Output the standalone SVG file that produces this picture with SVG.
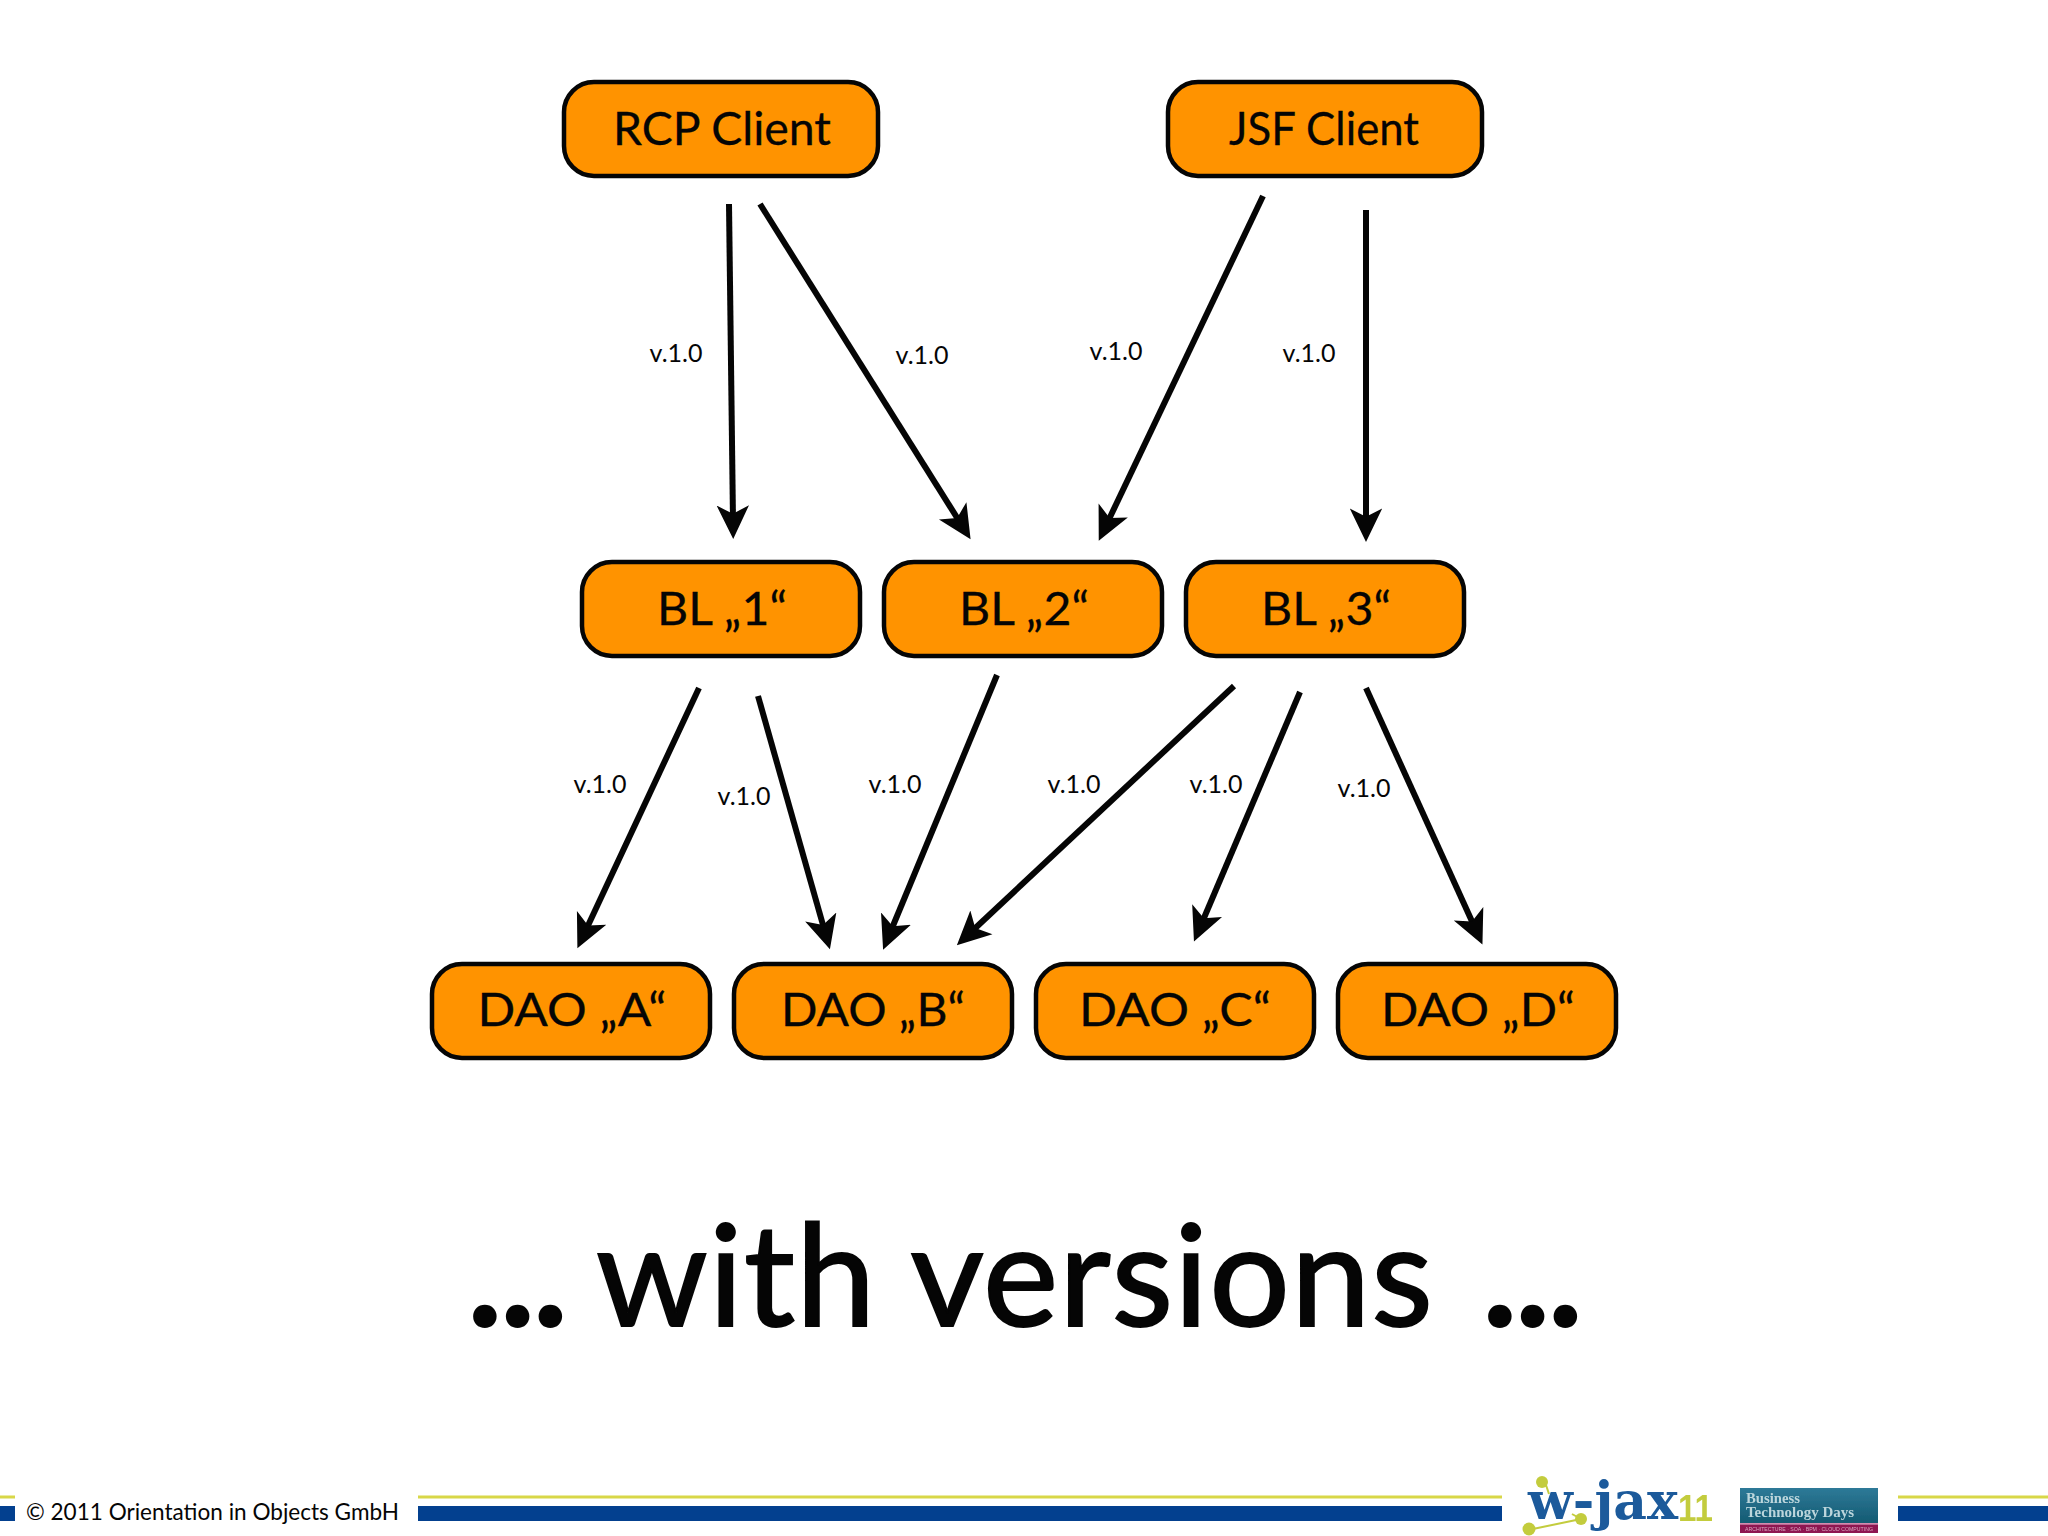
<svg xmlns="http://www.w3.org/2000/svg" width="2048" height="1536" viewBox="0 0 2048 1536">
<style>
text{font-family:"Lato","Open Sans","Liberation Sans",sans-serif;fill:#050505}
.n rect{fill:#ff9300;stroke:#050505;stroke-width:4.5}
.n text{font-size:46px;text-anchor:middle;stroke:#050505;stroke-width:.3}
.v{font-size:25px;text-anchor:middle}
.c line{stroke:#050505;stroke-width:6;marker-end:url(#a)}
.ye{fill:#d8d748}.bl{fill:#03408f}
.lg{font-family:"DejaVu Serif","Liberation Serif",serif;font-weight:700;font-size:52px;fill:#1b5a9b}
.el{font-family:"Liberation Sans",sans-serif;font-weight:700;font-size:36px;fill:#c3cc3e}
.bt{font-family:"Liberation Serif",serif;font-weight:700;font-size:15.5px;fill:#bcd6dc}
.st{font-family:"Liberation Sans",sans-serif;font-size:6px;fill:#d9a9c0}
</style>
<defs>
<marker id="a" markerUnits="userSpaceOnUse" markerWidth="36" markerHeight="36" refX="13" refY="15" orient="auto" viewBox="0 0 30 30"><path d="M0,1.5 L28,15 L0,28.5 L7,15 z" fill="#050505"/></marker>
<linearGradient id="t" x1="0" y1="0" x2="0" y2="1"><stop offset="0" stop-color="#2e7a98"/><stop offset="1" stop-color="#145a72"/></linearGradient>
<filter id="b" x="-5%" y="-5%" width="110%" height="110%"><feGaussianBlur stdDeviation="0.6"/></filter>
</defs>
<rect width="2048" height="1536" fill="#fff"/>
<g id="connectors" class="c">
<line x1="729" y1="204" x2="733" y2="521"/>
<line x1="760" y1="204" x2="961" y2="524"/>
<line x1="1263" y1="196" x2="1106.5" y2="524.5"/>
<line x1="1366" y1="210" x2="1366" y2="524"/>
<line x1="699" y1="688" x2="585" y2="932"/>
<line x1="758" y1="696" x2="825" y2="932"/>
<line x1="997" y1="675" x2="890" y2="933"/>
<line x1="1234" y1="686" x2="970" y2="933"/>
<line x1="1300" y1="692" x2="1201" y2="925"/>
<line x1="1366" y1="688" x2="1475" y2="928"/>
</g>
<g id="labels">
<text class="v" x="676" y="362">v.1.0</text>
<text class="v" x="922" y="364">v.1.0</text>
<text class="v" x="1116" y="360">v.1.0</text>
<text class="v" x="1309" y="362">v.1.0</text>
<text class="v" x="600" y="793">v.1.0</text>
<text class="v" x="744" y="805">v.1.0</text>
<text class="v" x="895" y="793">v.1.0</text>
<text class="v" x="1074" y="793">v.1.0</text>
<text class="v" x="1216" y="793">v.1.0</text>
<text class="v" x="1364" y="797">v.1.0</text>
</g>
<g id="rcp" class="n"><rect x="564" y="82" width="314" height="94" rx="30"/><text x="722" y="145" textLength="218" lengthAdjust="spacingAndGlyphs">RCP Client</text></g>
<g id="jsf" class="n"><rect x="1168" y="82" width="314" height="94" rx="30"/><text x="1324" y="145" textLength="190" lengthAdjust="spacingAndGlyphs">JSF Client</text></g>
<g id="bl1" class="n"><rect x="582" y="562" width="278" height="94" rx="30"/><text x="722" y="625" textLength="130" lengthAdjust="spacingAndGlyphs">BL „1“</text></g>
<g id="bl2" class="n"><rect x="884" y="562" width="278" height="94" rx="30"/><text x="1024" y="625" textLength="130" lengthAdjust="spacingAndGlyphs">BL „2“</text></g>
<g id="bl3" class="n"><rect x="1186" y="562" width="278" height="94" rx="30"/><text x="1326" y="625" textLength="130" lengthAdjust="spacingAndGlyphs">BL „3“</text></g>
<g id="daoA" class="n"><rect x="432" y="964" width="278" height="94" rx="30"/><text x="572" y="1026" textLength="189" lengthAdjust="spacingAndGlyphs">DAO „A“</text></g>
<g id="daoB" class="n"><rect x="734" y="964" width="278" height="94" rx="30"/><text x="873" y="1026" textLength="184" lengthAdjust="spacingAndGlyphs">DAO „B“</text></g>
<g id="daoC" class="n"><rect x="1036" y="964" width="278" height="94" rx="30"/><text x="1175" y="1026" textLength="192" lengthAdjust="spacingAndGlyphs">DAO „C“</text></g>
<g id="daoD" class="n"><rect x="1338" y="964" width="278" height="94" rx="30"/><text x="1478" y="1026" textLength="194" lengthAdjust="spacingAndGlyphs">DAO „D“</text></g>
<text y="1326" font-size="142" stroke="#050505" stroke-width="2"><tspan x="468" font-weight="700" letter-spacing="-1">...</tspan><tspan x="596" textLength="838" lengthAdjust="spacingAndGlyphs" letter-spacing="1">with versions</tspan><tspan x="1483" font-weight="700" letter-spacing="-1">...</tspan></text>
<g id="footer">
<rect class="ye" x="0" y="1495.500" width="15" height="3"/><rect class="bl" x="0" y="1506" width="15" height="15"/>
<rect class="ye" x="418" y="1495.500" width="1084" height="3"/><rect class="bl" x="418" y="1506" width="1084" height="15"/>
<rect class="ye" x="1898" y="1495.500" width="150" height="3"/><rect class="bl" x="1898" y="1506" width="150" height="15"/>
<text x="26" y="1520" font-size="24" textLength="373" lengthAdjust="spacingAndGlyphs">© 2011 Orientation in Objects GmbH</text>
</g>
<g id="wjax" filter="url(#b)">
<path d="M1528,1530 L1581,1519 M1545,1482 L1549,1494 M1581,1519 L1572,1514" stroke="#c3cc3e" stroke-width="2" fill="none"/>
<circle cx="1542" cy="1482" r="6" fill="#c3cc3e"/><circle cx="1581" cy="1519" r="6" fill="#c3cc3e"/><circle cx="1529" cy="1529" r="6.500" fill="#c3cc3e"/>
<text class="lg" x="1528" y="1519" textLength="150" lengthAdjust="spacingAndGlyphs">w-jax</text>
<text class="el" x="1678" y="1521" textLength="35" lengthAdjust="spacingAndGlyphs">11</text>
</g>
<g id="btd" filter="url(#b)">
<rect x="1740" y="1488" width="138" height="35" fill="url(#t)"/>
<rect x="1740" y="1523" width="138" height="1.500" fill="#d58ab0"/>
<rect x="1740" y="1524.500" width="138" height="8.500" fill="#8e1351"/>
<text class="bt" x="1746" y="1503" textLength="54" lengthAdjust="spacingAndGlyphs">Business</text>
<text class="bt" x="1746" y="1517" textLength="108" lengthAdjust="spacingAndGlyphs">Technology Days</text>
<text class="st" x="1745" y="1531" textLength="128" lengthAdjust="spacingAndGlyphs">ARCHITECTURE · SOA · BPM · CLOUD COMPUTING</text>
</g>
</svg>
